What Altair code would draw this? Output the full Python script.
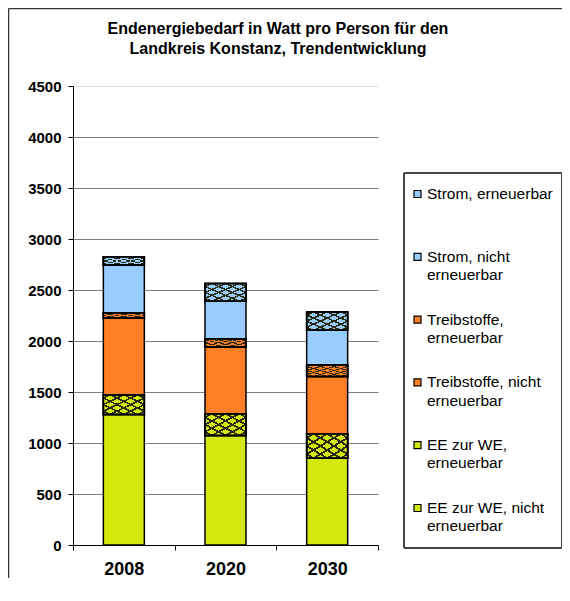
import altair as alt
import pandas as pd

years = ["2008", "2020", "2030"]
series = [
    "EE zur WE, nicht erneuerbar",
    "EE zur WE, erneuerbar",
    "Treibstoffe, nicht erneuerbar",
    "Treibstoffe, erneuerbar",
    "Strom, nicht erneuerbar",
    "Strom, erneuerbar",
]
ee_nicht = [1280, 1074, 851]
ee_ern = [193, 213, 239]
tr_nicht = [753, 654, 563]
tr_ern = [49, 82, 115]
st_nicht = [469, 367, 337]
st_ern = [81, 173, 180]
values = [ee_nicht, ee_ern, tr_nicht, tr_ern, st_nicht, st_ern]
hatched = [False, True, False, True, False, True]
series_colors = ["#D2E80F", "#D2E80F", "#FF7F27", "#FF7F27", "#99CCFF", "#99CCFF"]
y_ticks = [0, 500, 1000, 1500, 2000, 2500, 3000, 3500, 4000, 4500]
title_lines = ["Endenergiebedarf in Watt pro Person für den",
               "Landkreis Konstanz, Trendentwicklung"]

rows = []
for si, s in enumerate(series):
    for yi, yr in enumerate(years):
        rows.append({"year": yr, "series": s, "value": values[si][yi],
                     "order": si, "hatched": hatched[si]})
df = pd.DataFrame(rows)

legend_order = list(reversed(series))
legend_colors = list(reversed(series_colors))


def wrap_label(s):
    if s == "Strom, erneuerbar":
        return s
    return s[: -len(" erneuerbar")] + "\nerneuerbar"


leg_df = pd.DataFrame({"series": legend_order,
                       "label": [wrap_label(s) for s in legend_order]})

FONT = "Liberation Sans"
color_scale = alt.Scale(domain=legend_order, range=legend_colors)


def stripes(direction):
    n = 6
    hw = 0.022
    dark = "#2a2a10"
    clear = "rgba(0,0,0,0)"
    stops = []
    for i in range(n):
        c = (i + 0.5) / n
        stops += [
            {"offset": round(c - hw, 4), "color": clear},
            {"offset": round(c - hw, 4), "color": dark},
            {"offset": round(c + hw, 4), "color": dark},
            {"offset": round(c + hw, 4), "color": clear},
        ]
    if direction == 0:
        return {"gradient": "linear", "x1": 0, "y1": 0, "x2": 1, "y2": 1, "stops": stops}
    return {"gradient": "linear", "x1": 1, "y1": 0, "x2": 0, "y2": 1, "stops": stops}


x_enc = alt.X(
    "year:N", sort=years,
    scale=alt.Scale(paddingInner=0, paddingOuter=0),
    axis=alt.Axis(title=None, labelAngle=0, labelFont=FONT, labelFontSize=18,
                  labelFontWeight="bold", labelColor="black", tickBand="extent",
                  tickColor="black", tickSize=5, domainColor="black",
                  labelPadding=10, grid=False),
)
y_enc = alt.Y(
    "y0:Q",
    scale=alt.Scale(domain=[0, 4500], nice=False),
    axis=alt.Axis(title=None, values=y_ticks, format="d", labelFont=FONT,
                  labelFontSize=15, labelFontWeight="bold", labelColor="black",
                  tickColor="black", tickSize=5, domainColor="black", labelPadding=7,
                  gridColor={"condition": {"test": "datum.value >= 4500", "value": "#dddddd"},
                             "value": "#808080"}),
)

base = alt.Chart(df).transform_stack(
    stack="value", groupby=["year"], as_=["y0", "y1"],
    sort=[alt.SortField("order", "ascending")],
)

bars = base.mark_bar(size=41, stroke="black", strokeWidth=1.5).encode(
    x=x_enc, y=y_enc, y2="y1:Q",
    color=alt.Color("series:N", scale=color_scale, legend=None),
)
hatch_a = base.transform_filter("datum.hatched").mark_bar(
    size=41, fill=stripes(0), stroke="black", strokeWidth=1.5
).encode(x=x_enc, y=y_enc, y2="y1:Q")
hatch_b = base.transform_filter("datum.hatched").mark_bar(
    size=41, fill=stripes(1), stroke="black", strokeWidth=1.5
).encode(x=x_enc, y=y_enc, y2="y1:Q")
bar_layer = alt.layer(bars, hatch_a, hatch_b)

# legend drawn as its own small layer
leg_y = alt.Y("series:N", sort=legend_order,
              scale=alt.Scale(type="point", domain=legend_order, range=[108, 422], padding=0),
              axis=None)
leg_box = alt.Chart(leg_df).mark_rect(fillOpacity=0, stroke="#444444", strokeWidth=1).encode(
    x=alt.value(331), x2=alt.value(488.5), y=alt.value(87), y2=alt.value(462))
leg_sym = alt.Chart(leg_df).mark_square(size=49, opacity=1, stroke="black", strokeWidth=1.2).encode(
    x=alt.value(344.5), y=leg_y,
    color=alt.Color("series:N", scale=color_scale, legend=None))
leg_txt = alt.Chart(leg_df).mark_text(
    align="left", baseline="top", dy=-7, font=FONT, fontSize=15.5,
    lineBreak="\n", lineHeight=18.3, color="black"
).encode(x=alt.value(354), y=leg_y, text="label:N")
legend_layer = alt.layer(leg_box, leg_sym, leg_txt)

one = pd.DataFrame({"k": [0]})
frame_left = alt.Chart(one).mark_rule(stroke="#333333", strokeWidth=1.5).encode(
    x=alt.value(-64.5), y=alt.value(-77.5), y2=alt.value(700))
frame_top = alt.Chart(one).mark_rule(stroke="#333333", strokeWidth=1.5).encode(
    x=alt.value(-64.5), x2=alt.value(700), y=alt.value(-77.5))
title1 = alt.Chart(one).mark_text(
    text=title_lines[0], font=FONT, fontSize=16, fontWeight="bold", color="black",
    align="center", baseline="alphabetic").encode(x=alt.value(205), y=alt.value(-51.8))
title2 = alt.Chart(one).mark_text(
    text=title_lines[1], font=FONT, fontSize=16, fontWeight="bold", color="black",
    align="center", baseline="alphabetic").encode(x=alt.value(205), y=alt.value(-31.8))

chart = alt.layer(frame_left, frame_top, title1, title2, bar_layer, legend_layer).resolve_scale(
    y="independent"
).properties(
    width=305, height=459,
    autosize=alt.AutoSizeParams(type="none"),
    padding={"left": 65, "top": 78, "right": 184, "bottom": 33},
    background="white",
).configure_view(stroke="transparent")

chart.save("out.html", embed_options={"renderer": "svg", "actions": False})
